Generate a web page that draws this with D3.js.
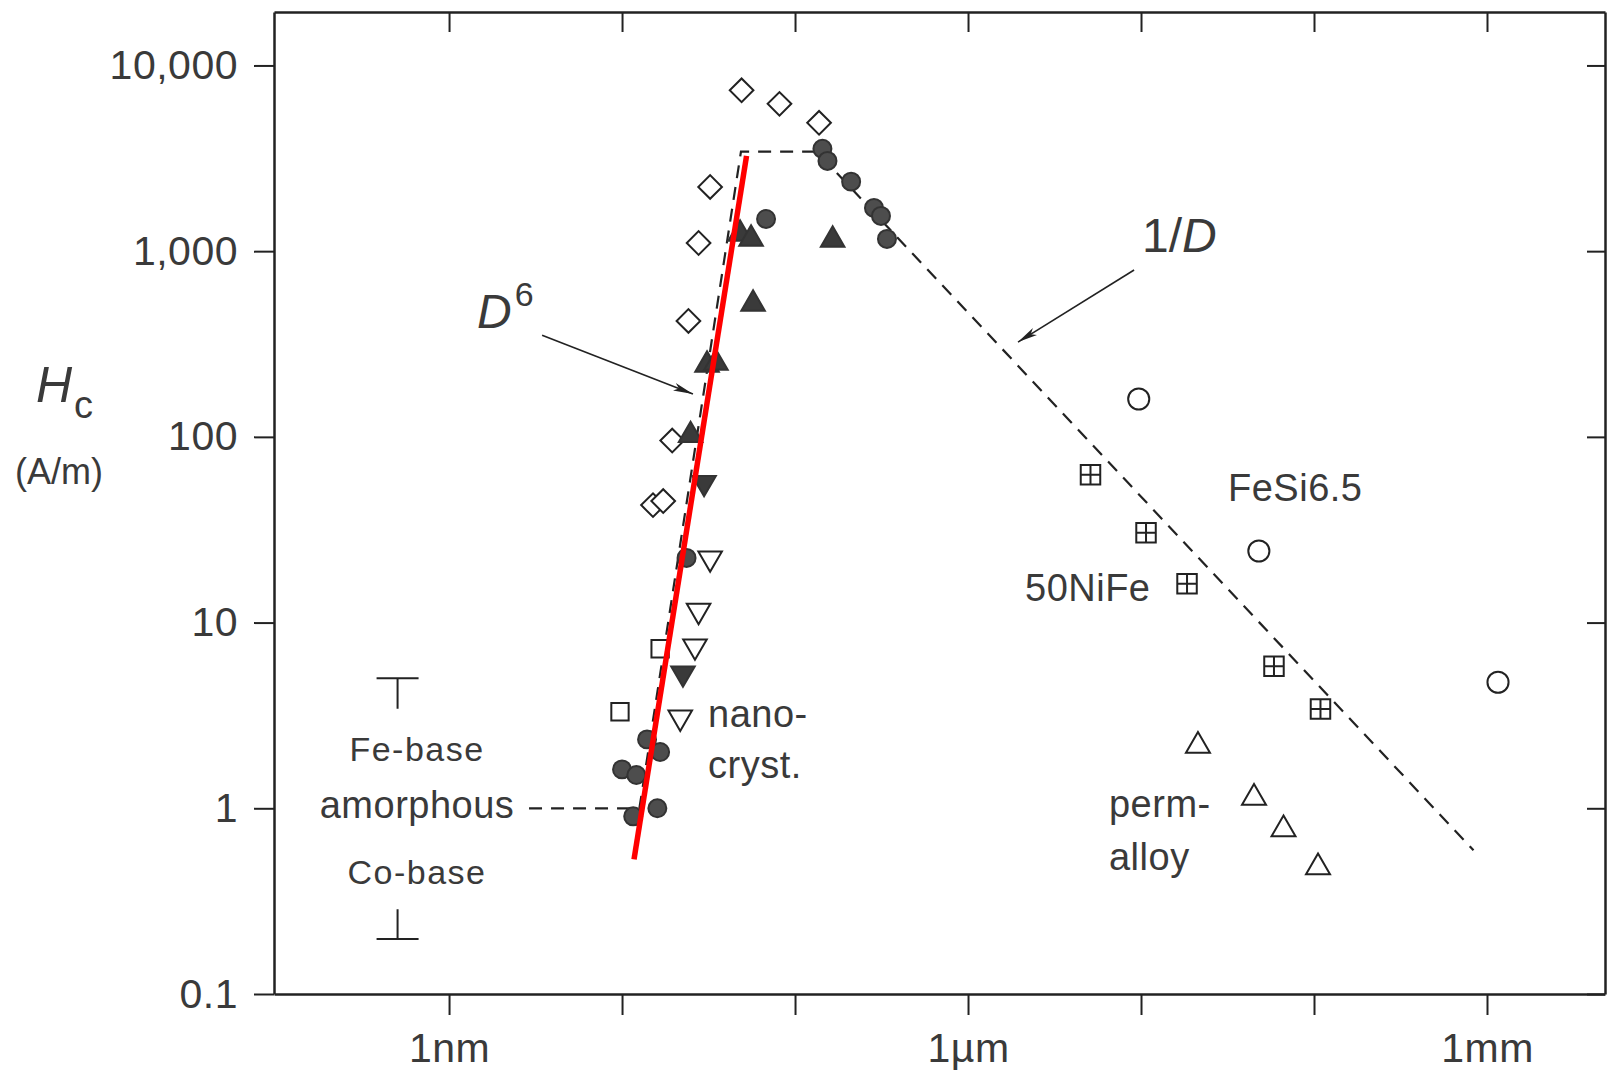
<!DOCTYPE html>
<html>
<head>
<meta charset="utf-8">
<script src="https://cdn.jsdelivr.net/npm/d3@7"></script>
<style>
body { margin: 0; background: #fff; }
svg { display: block; font-family: "Liberation Sans", Arial, sans-serif; }
.axis path, .axis line { stroke: #222; }
.axis path { stroke-width: 2.5; }
.axis line { stroke-width: 2; }
.axis text { font-size: 41px; fill: #3a3a3a; font-family: "Liberation Sans", Arial, sans-serif; letter-spacing: 0.5px; }
.lbl { font-size: 38px; fill: #3a3a3a; letter-spacing: 0.5px; }
</style>
</head>
<body>
<script>
// Set the dimensions of the canvas / graph
var margin = {top: 12, right: 5, bottom: 80, left: 274},
    width = 1610 - margin.left - margin.right,
    height = 1074 - margin.top - margin.bottom;

// Tick values and labels
var xTickValues = [1, 10, 100, 1e3, 1e4, 1e5, 1e6];
var xTickLabels = ["1nm", "", "", "1\u00b5m", "", "", "1mm"];
var yTickValues = [0.1, 1, 10, 100, 1000, 10000];
var yTickLabels = ["0.1", "1", "10", "100", "1,000", "10,000"];

// Data: grain size D (nm) and coercivity Hc (A/m)
var diamondD  = [49.1, 81.3, 137.7, 32.3, 27.7, 24.2, 19.5, 15.1, 17.3];
var diamondHc = [7345, 6210, 4907, 2218, 1107, 421, 95.5, 42.9, 45.1];

var dotD  = [144, 154, 211, 68, 286, 314, 340, 23.6, 13.95, 16.6, 10.0, 12.1, 11.6, 16.0];
var dotHc = [3555, 3062, 2368, 1491, 1709, 1548, 1164, 22.3, 2.35, 2.01, 1.62, 1.51, 0.905, 1.0];

var triUpD  = [48.1, 55.7, 165, 57.2, 31.0, 34.9, 24.9];
var triUpHc = [1238, 1164, 1149, 520, 244, 250, 102];

var triDownD  = [29.8, 22.5];
var triDownHc = [56.6, 5.34];

var openTriDownD  = [32.3, 27.7, 26.4, 21.7];
var openTriDownHc = [22.2, 11.6, 7.46, 3.09];

var openSquareD  = [16.6, 9.73];
var openSquareHc = [7.23, 3.31];

var feSiD  = [9700, 48000, 1.158e6];
var feSiHc = [160, 24.3, 4.77];

var niFeD  = [5105, 10690, 18450, 58700, 109000];
var niFeHc = [62.6, 30.5, 16.2, 5.82, 3.42];

var permD  = [21340, 45000, 66650, 105500];
var permHc = [2.17, 1.14, 0.77, 0.481];

// guide lines: amorphous level, D^6 rise, plateau, 1/D fall
var guideD  = [2.9, 12.6, 48.7, 133.4, 835700];
var guideHc = [1, 1, 3436, 3436, 0.594];

// red D^6 fit
var fitD  = [11.73, 52.45];
var fitHc = [0.531, 3258];

// amorphous ranges (Fe-base top, Co-base bottom)
var amorphD = 0.504;
var feBaseHc = [5.02, 3.44];
var coBaseHc = [0.198, 0.286];

// Set the ranges
var x = d3.scaleLog().domain([0.0973, 4.81e6]).range([0, width]);
var y = d3.scaleLog().domain([0.1, 19400]).range([height, 0]);

var svg0 = d3.select("body")
    .append("svg")
        .attr("width", width + margin.left + margin.right)
        .attr("height", height + margin.top + margin.bottom);

svg0.append("defs").append("marker")
    .attr("id", "arrow")
    .attr("markerUnits", "userSpaceOnUse")
    .attr("markerWidth", 22)
    .attr("markerHeight", 10)
    .attr("refX", 20)
    .attr("refY", 5)
    .attr("orient", "auto")
  .append("path")
    .attr("d", "M0,1 L20,5 L0,9 L5,5 Z")
    .attr("fill", "#222");

var svg = svg0.append("g")
    .attr("transform", "translate(" + margin.left + "," + margin.top + ")");

// Axes
function xlab(d) { return xTickLabels[xTickValues.indexOf(d)]; }
function ylab(d) { return yTickLabels[yTickValues.indexOf(d)]; }

svg.append("g").attr("class", "axis")
    .attr("transform", "translate(0," + height + ")")
    .call(d3.axisBottom(x).tickValues(xTickValues).tickFormat(xlab)
        .tickSize(21).tickSizeOuter(0).tickPadding(18));

svg.append("g").attr("class", "axis")
    .call(d3.axisTop(x).tickValues(xTickValues).tickFormat("")
        .tickSize(-20).tickSizeOuter(0));

svg.append("g").attr("class", "axis")
    .call(d3.axisLeft(y).tickValues(yTickValues).tickFormat(ylab)
        .tickSize(20).tickSizeOuter(0).tickPadding(16));

svg.append("g").attr("class", "axis")
    .attr("transform", "translate(" + width + ",0)")
    .call(d3.axisRight(y).tickValues(yTickValues).tickFormat("")
        .tickSize(-18).tickSizeOuter(0));

// Guide line
var line = d3.line()
    .x(function(d) { return x(d[0]); })
    .y(function(d) { return y(d[1]); });

svg.append("path")
    .attr("d", line(d3.zip(guideD, guideHc)))
    .attr("fill", "none")
    .attr("stroke", "#222")
    .attr("stroke-width", 2.2)
    .attr("stroke-dasharray", "13,9");

// amorphous range bars
var cap = 21;
svg.append("path")
    .attr("d", "M" + (x(amorphD) - cap) + "," + y(feBaseHc[0]) + "H" + (x(amorphD) + cap) +
               "M" + x(amorphD) + "," + y(feBaseHc[0]) + "V" + y(feBaseHc[1]) +
               "M" + (x(amorphD) - cap) + "," + y(coBaseHc[0]) + "H" + (x(amorphD) + cap) +
               "M" + x(amorphD) + "," + y(coBaseHc[0]) + "V" + y(coBaseHc[1]))
    .attr("fill", "none")
    .attr("stroke", "#222")
    .attr("stroke-width", 2);

// Markers
var crossSquare = {
    draw: function(context, size) {
        var s = Math.sqrt(size) / 2;
        context.rect(-s, -s, 2 * s, 2 * s);
        context.moveTo(-s, 0); context.lineTo(s, 0);
        context.moveTo(0, -s); context.lineTo(0, s);
    }
};

function plot(ds, hs, type, size, rot, fill, stroke) {
    svg.append("g").selectAll("path")
        .data(d3.zip(ds, hs))
        .enter().append("path")
        .attr("d", d3.symbol().type(type).size(size))
        .attr("transform", function(d) {
            return "translate(" + x(d[0]) + "," + y(d[1]) + ") rotate(" + rot + ")";
        })
        .attr("fill", fill)
        .attr("stroke", stroke)
        .attr("stroke-width", 2);
}

plot(diamondD, diamondHc, d3.symbolSquare, 280, 45, "#fff", "#222");
plot(dotD, dotHc, d3.symbolCircle, 254, 0, "#4d4d4d", "#333");
plot(triUpD, triUpHc, d3.symbolTriangle, 240, 0, "#3a3a3a", "#333");
plot(triDownD, triDownHc, d3.symbolTriangle, 240, 180, "#3a3a3a", "#333");
plot(openTriDownD, openTriDownHc, d3.symbolTriangle, 240, 180, "#fff", "#222");
plot(openSquareD, openSquareHc, d3.symbolSquare, 300, 0, "#fff", "#222");
plot(feSiD, feSiHc, d3.symbolCircle, 350, 0, "none", "#222");
plot(niFeD, niFeHc, crossSquare, 380, 0, "#fff", "#222");
plot(permD, permHc, d3.symbolTriangle, 249, 0, "none", "#222");

// Red fit line
svg.append("path")
    .attr("d", line(d3.zip(fitD, fitHc)))
    .attr("fill", "none")
    .attr("stroke", "#ff0000")
    .attr("stroke-width", 5.5);

// Arrows
function arrow(d0, h0, d1, h1) {
    svg.append("line")
        .attr("x1", x(d0)).attr("y1", y(h0))
        .attr("x2", x(d1)).attr("y2", y(h1))
        .attr("stroke", "#222")
        .attr("stroke-width", 1.6)
        .attr("marker-end", "url(#arrow)");
}
arrow(3.45, 353, 25.7, 170);
arrow(9120, 792, 1945, 324);

// Labels
function label(d, h, txt, anchor) {
    return svg.append("text")
        .attr("class", "lbl")
        .attr("x", x(d))
        .attr("y", y(h))
        .attr("text-anchor", anchor || "start")
        .text(txt);
}

var d6 = svg.append("text").attr("x", x(1.451)).attr("y", y(385.7))
    .style("font-size", "48px").style("fill", "#3a3a3a");
d6.append("tspan").style("font-style", "italic").text("D");
d6.append("tspan").attr("dx", 3).attr("dy", -22).style("font-size", "34px").text("6");

var invD = svg.append("text").attr("x", x(10140)).attr("y", y(990))
    .style("font-size", "48px").style("fill", "#3a3a3a");
invD.append("tspan").text("1/");
invD.append("tspan").style("font-style", "italic").text("D");

label(31840, 45.1, "FeSi6.5");
label(2135, 13.04, "50NiFe");
label(31.4, 2.73, "nano-");
label(31.4, 1.45, "cryst.");
label(6530, 0.894, "perm-");
label(6530, 0.4635, "alloy");
label(0.653, 1.792, "Fe-base", "middle").style("font-size", "34px").style("letter-spacing", "1.5px");
label(0.653, 0.884, "amorphous", "middle").style("font-size", "38px");
label(0.653, 0.3896, "Co-base", "middle").style("font-size", "34px").style("letter-spacing", "1.5px");

// y-axis title
var hc = svg0.append("text").attr("x", 36).attr("y", 402)
    .style("font-size", "50px").style("fill", "#3a3a3a");
hc.append("tspan").style("font-style", "italic").text("H");
hc.append("tspan").attr("dx", 2).attr("dy", 16).style("font-size", "38px").text("c");

svg0.append("text")
    .attr("x", 59).attr("y", 484)
    .style("text-anchor", "middle")
    .style("font-size", "36px")
    .style("fill", "#3a3a3a")
    .text("(A/m)");
</script>
</body>
</html>
